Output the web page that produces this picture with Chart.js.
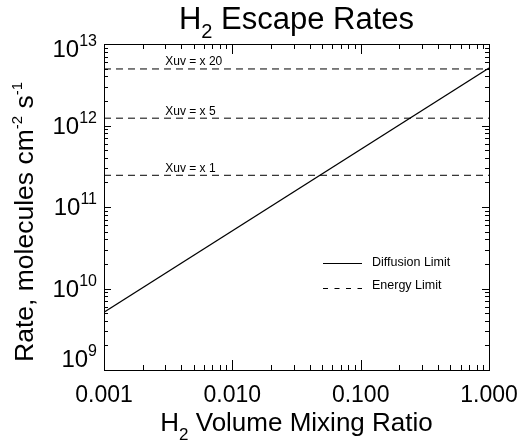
<!DOCTYPE html>
<html>
<head>
<meta charset="utf-8">
<script src="https://cdn.jsdelivr.net/npm/chart.js@4.4.1/dist/chart.umd.min.js"></script>
<style>
  html, body { margin: 0; padding: 0; background: #fff; }
  #wrap { width: 525px; height: 441px; }
</style>
</head>
<body>
<div id="wrap"><canvas id="chart" width="525" height="441"></canvas></div>
<script>
// H2 volume mixing ratio and escape rates (molecules cm-2 s-1)
const mixingRatio = [0.001, 1];
const diffusionRate = [5.1e9, 5.08e12];
const xuvFactors = [1, 5, 20];
const energyRate = [2.45e11, 1.23e12, 4.94e12];

const xTickValues = [0.001, 0.01, 0.1, 1];
const xTickLabels = ['0.001', '0.010', '0.100', '1.000'];
const yTickExponents = [9, 10, 11, 12, 13];

const FONT = '"Liberation Sans", Helvetica, Arial, sans-serif';

// draw a run of text pieces (for sub/superscripts)
function drawRuns(ctx, runs, x, y, align) {
    let total = 0;
    runs.forEach(r => {
        ctx.font = r.s + 'px ' + FONT;
        r.w = ctx.measureText(r.t).width;
        total += r.w;
    });
    let cx = align === 'center' ? x - total / 2 : align === 'right' ? x - total : x;
    ctx.textAlign = 'left';
    ctx.textBaseline = 'alphabetic';
    runs.forEach(r => {
        ctx.font = r.s + 'px ' + FONT;
        ctx.fillText(r.t, cx, y + (r.dy || 0));
        cx += r.w;
    });
}

function logTicks(lo, hi) {
    const out = [];
    for (let k = lo; k < hi; k++) {
        for (let m = 1; m < 10; m++) out.push({ v: m * Math.pow(10, k), major: m === 1 });
    }
    out.push({ v: Math.pow(10, hi), major: true });
    return out;
}

const decorations = {
    id: 'decorations',
    afterDraw(chart) {
        const { ctx, chartArea: a, scales: { x, y } } = chart;
        ctx.save();
        ctx.strokeStyle = '#000';
        ctx.fillStyle = '#000';
        ctx.lineWidth = 1;
        ctx.setLineDash([]);
        ctx.strokeRect(a.left + 0.5, a.top + 0.5, a.right - a.left, a.bottom - a.top);

        // inward ticks, all four sides
        ctx.beginPath();
        logTicks(-3, 0).forEach(t => {
            const px = Math.round(x.getPixelForValue(t.v)) + 0.5;
            const len = t.major ? 10 : 5;
            ctx.moveTo(px, a.bottom); ctx.lineTo(px, a.bottom - len);
            ctx.moveTo(px, a.top); ctx.lineTo(px, a.top + len);
        });
        logTicks(9, 13).forEach(t => {
            const py = Math.round(y.getPixelForValue(t.v)) + 0.5;
            const len = t.major ? 7 : 4;
            ctx.moveTo(a.left, py); ctx.lineTo(a.left + len, py);
            ctx.moveTo(a.right, py); ctx.lineTo(a.right - len, py);
        });
        ctx.stroke();

        // x tick labels
        ctx.font = '23px ' + FONT;
        ctx.textAlign = 'center';
        ctx.textBaseline = 'alphabetic';
        xTickValues.forEach((v, i) => {
            ctx.fillText(xTickLabels[i], x.getPixelForValue(v), 402);
        });

        // y tick labels 10^n
        yTickExponents.forEach(e => {
            const py = y.getPixelForValue(Math.pow(10, e));
            const base = Math.min(Math.max(py + 8, a.top + 13), a.bottom - 3);
            drawRuns(ctx, [{ t: '10', s: 24 }, { t: String(e), s: 16, dy: -11 }], 97, base, 'right');
        });

        // title
        const midX = (a.left + a.right) / 2;
        drawRuns(ctx, [{ t: 'H', s: 31 }, { t: '2', s: 20, dy: 9 }, { t: ' Escape Rates', s: 31 }], midX, 28.5, 'center');

        // x title
        drawRuns(ctx, [{ t: 'H', s: 26 }, { t: '2', s: 17, dy: 9 }, { t: ' Volume Mixing Ratio', s: 26 }], midX, 430.5, 'center');

        // y title
        ctx.save();
        ctx.translate(33, 222);
        ctx.rotate(-Math.PI / 2);
        drawRuns(ctx, [{ t: 'Rate, molecules cm', s: 26.5 }, { t: '-2', s: 15, dy: -11 },
            { t: ' s', s: 26.5 }, { t: '-1', s: 15, dy: -11 }], 0, 0, 'center');
        ctx.restore();

        // Xuv labels above the energy lines
        ctx.font = '12px ' + FONT;
        ctx.textAlign = 'left';
        xuvFactors.forEach((f, i) => {
            ctx.fillText('Xuv = x ' + f, x.getPixelForValue(0.003), y.getPixelForValue(energyRate[i]) - 3.5);
        });

        // legend
        ctx.beginPath();
        ctx.moveTo(323, 263.5); ctx.lineTo(362, 263.5);
        ctx.stroke();
        ctx.setLineDash([5, 6.5]);
        ctx.beginPath();
        ctx.moveTo(323, 288.5); ctx.lineTo(362, 288.5);
        ctx.stroke();
        ctx.setLineDash([]);
        ctx.font = '12.5px ' + FONT;
        ctx.fillText('Diffusion Limit', 372, 265.5);
        ctx.fillText('Energy Limit', 372, 288.5);
        ctx.restore();
    }
};

const datasets = [{
    label: 'Diffusion Limit',
    data: mixingRatio.map((v, i) => ({ x: v, y: diffusionRate[i] })),
    borderColor: '#000',
    borderWidth: 1.2,
    showLine: true,
    pointRadius: 0
}];
energyRate.forEach((r, i) => {
    datasets.push({
        label: 'Energy Limit x' + xuvFactors[i],
        data: [{ x: mixingRatio[0], y: r }, { x: mixingRatio[mixingRatio.length - 1], y: r }],
        borderColor: '#000',
        borderWidth: 1,
        borderDash: [7, 5],
        showLine: true,
        pointRadius: 0
    });
});

new Chart(document.getElementById('chart'), {
    type: 'scatter',
    data: { datasets: datasets },
    options: {
        responsive: false,
        animation: false,
        layout: { padding: { top: 44, right: 36, left: 0, bottom: 0 } },
        plugins: {
            legend: { display: false },
            tooltip: { enabled: false },
            title: { display: false }
        },
        scales: {
            x: {
                type: 'logarithmic', min: 0.001, max: 1,
                ticks: { display: false },
                grid: { display: false },
                border: { display: false },
                afterFit(s) { s.height = 71; }
            },
            y: {
                type: 'logarithmic', min: 1e9, max: 1e13,
                ticks: { display: false },
                grid: { display: false },
                border: { display: false },
                afterFit(s) { s.width = 104; }
            }
        }
    },
    plugins: [decorations]
});
</script>
</body>
</html>
